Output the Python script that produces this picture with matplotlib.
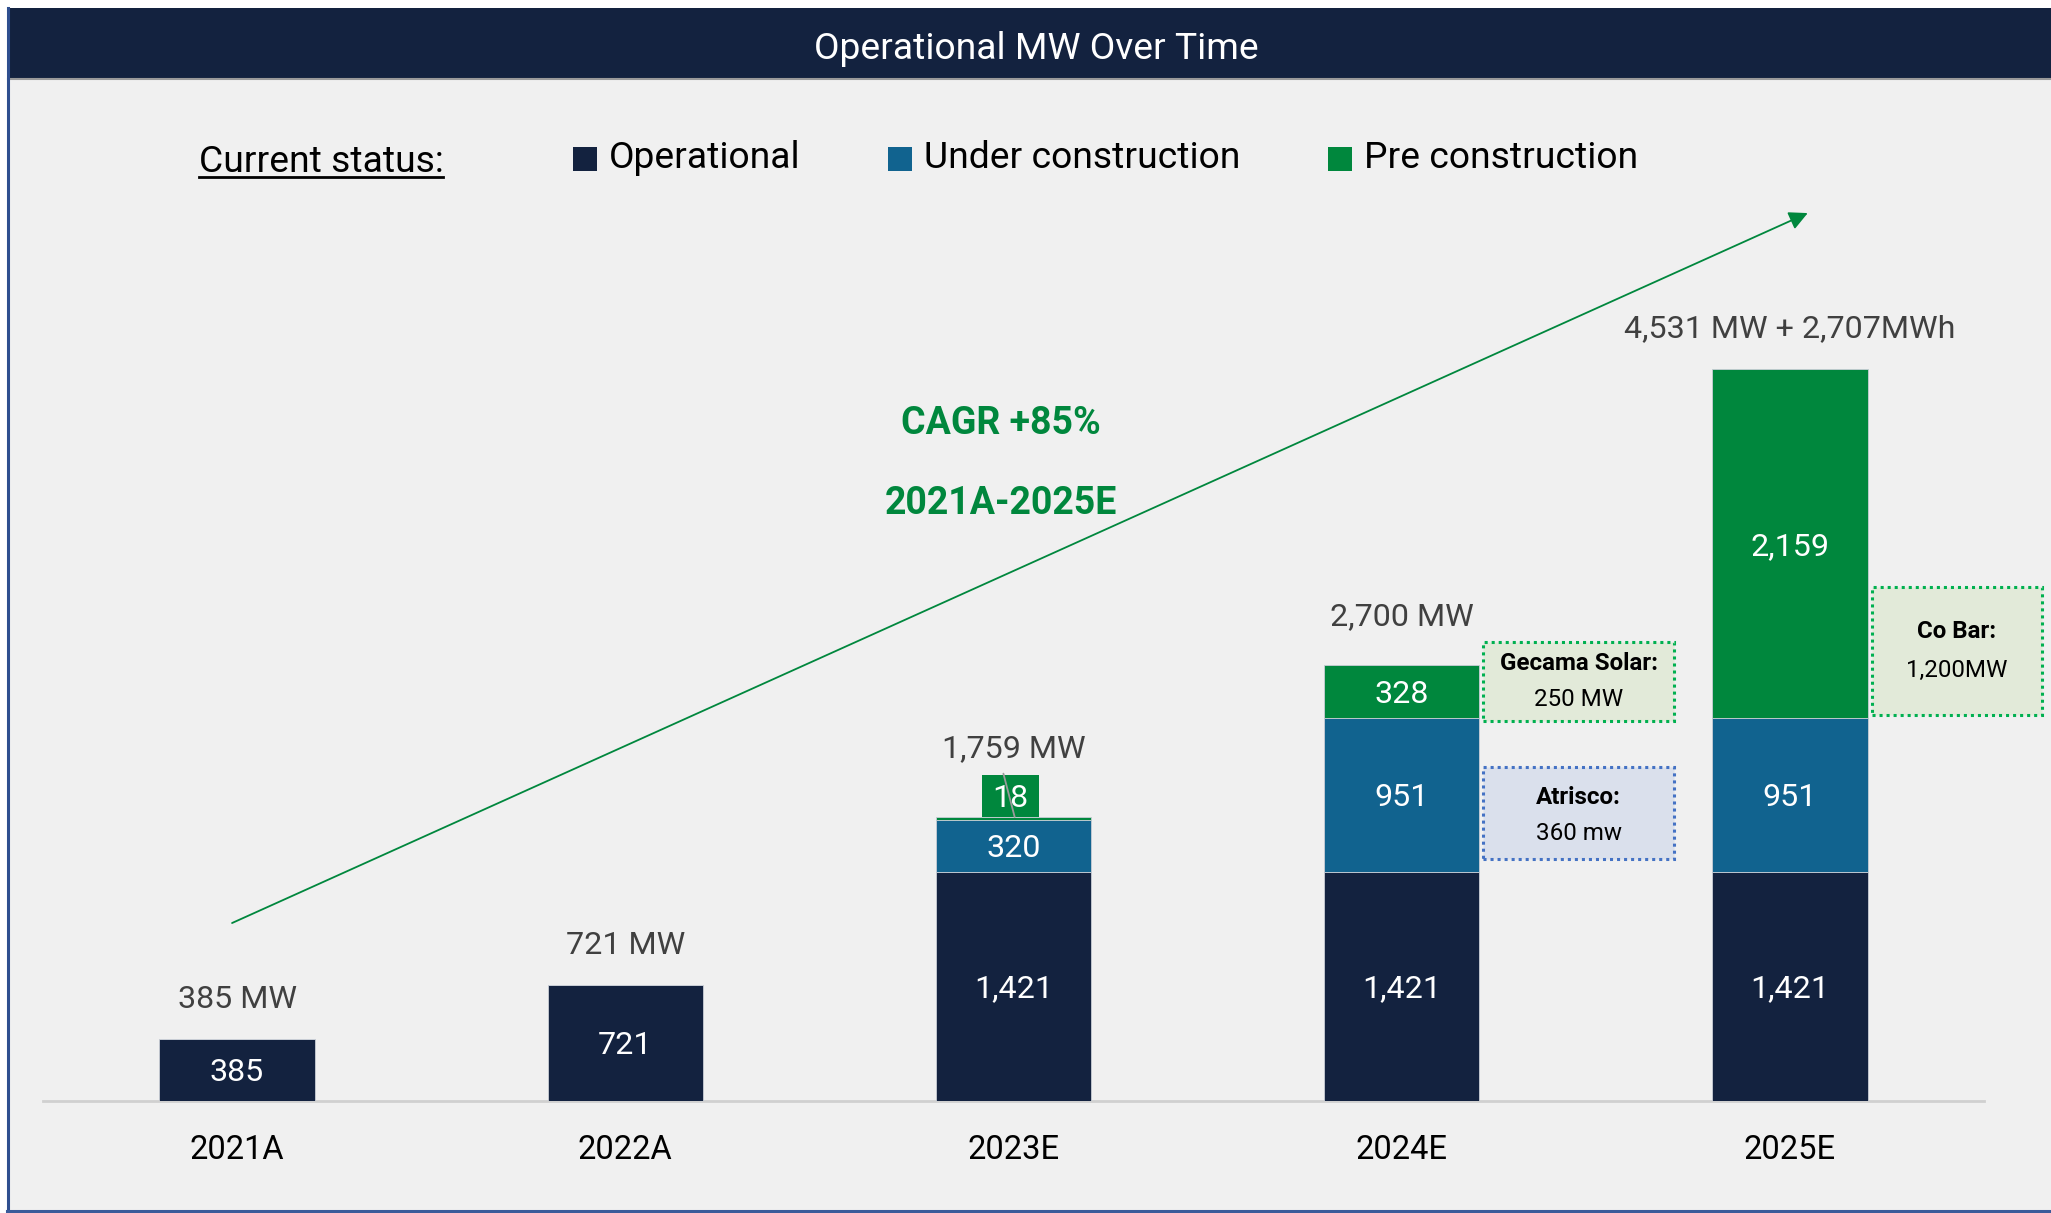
import matplotlib
matplotlib.use("Agg")
import matplotlib.pyplot as plt
from matplotlib.patches import Rectangle
from matplotlib.lines import Line2D
import numpy as np

plt.rcParams['font.family'] = ['Roboto', 'DejaVu Sans']

# ---------------- data ----------------
years = ["2021A", "2022A", "2023E", "2024E", "2025E"]
operational = [385, 721, 1421, 1421, 1421]
under_construction = [0, 0, 320, 951, 951]
pre_construction = [0, 0, 18, 328, 2159]
total_labels = ["385 MW", "721 MW", "1,759 MW", "2,700 MW", "4,531 MW + 2,707MWh"]
status_names = ["Operational", "Under construction", "Pre construction"]
title = "Operational MW Over Time"
cagr_lines = ["CAGR +85%", "2021A-2025E"]

NAVY = "#13223F"
BLUE = "#11638F"
GREEN = "#00873D"
colors = [NAVY, BLUE, GREEN]

W, H = 2051, 1213
fig = plt.figure(figsize=(W / 100, H / 100), dpi=100, facecolor="white")


def fx(x):
    return x / W


def fy(y):
    return 1 - y / H


def frect(x0, y0, x1, y1, **kw):
    r = Rectangle((fx(x0), fy(y1)), fx(x1) - fx(x0), fy(y0) - fy(y1),
                  transform=fig.transFigure, **kw)
    fig.add_artist(r)
    return r


# panel background and borders
frect(8, 8, W, 1211, facecolor="#F0F0F0", edgecolor="none", zorder=0)
frect(8, 8, W, 79, facecolor=NAVY, edgecolor="none", zorder=1)
fig.add_artist(Line2D([fx(8), fx(W)], [fy(79), fy(79)], color="#9A9A9A", lw=1.5,
                      transform=fig.transFigure, zorder=2))
fig.add_artist(Line2D([fx(7.5), fx(7.5)], [fy(8), fy(1211)], color="#2F4F8F", lw=2.2,
                      transform=fig.transFigure, zorder=2))
fig.add_artist(Line2D([fx(7), fx(W)], [fy(1211), fy(1211)], color="#3B5B9A", lw=2.2,
                      transform=fig.transFigure, zorder=2))

fig.text(fx(1036), fy(49), title, color="white", fontsize=26.8, ha="center", va="center")

# legend
fig.text(fx(199), fy(162), "Current status:", fontsize=26.8, color="black",
         ha="left", va="center")
fig.add_artist(Line2D([fx(199), fx(443)], [fy(177), fy(177)], color="black", lw=2,
                      transform=fig.transFigure))
leg_sq_x = [573, 888, 1328]
for sx, name, c in zip(leg_sq_x, status_names, colors):
    frect(sx, 147, sx + 24, 171, facecolor=c, edgecolor="none", zorder=3)
    fig.text(fx(sx + 36), fy(158), name, fontsize=26.8, color="black", ha="left", va="center")

# ---------------- axes ----------------
ax = fig.add_axes([fx(43), fy(1101), fx(1984) - fx(43), fy(79) - fy(1101)])
ax.patch.set_alpha(0)
x = np.arange(len(years))
bw = 0.4
op = np.array(operational)
uc = np.array(under_construction)
pc = np.array(pre_construction)
edge = dict(edgecolor="#C9CED6", linewidth=0.6)
ax.bar(x, op, bw, color=NAVY, zorder=3, **edge)
ax.bar(x, uc, bw, bottom=op, color=BLUE, zorder=3, **edge)
ax.bar(x, pc, bw, bottom=op + uc, color=GREEN, zorder=3, **edge)

ax.set_xlim(-0.5, 4.5)
ax.set_ylim(0, 1022 / 0.1615)
ax.set_xticks(x)
ax.set_xticklabels(years, fontsize=23.5, color="black")
ax.tick_params(axis="x", length=0, pad=24)
ax.set_yticks([])
for s in ["top", "left", "right"]:
    ax.spines[s].set_visible(False)
ax.spines["bottom"].set_color("#D0D0D0")
ax.spines["bottom"].set_linewidth(2)

# inner labels
lab_kw = dict(ha="center", va="center", color="white", fontsize=23.2, zorder=5,
              textcoords="offset points", xytext=(0, -2))
for i in range(len(years)):
    ax.annotate(f"{op[i]:,}", xy=(x[i], op[i] / 2), **lab_kw)
    if uc[i] > 0:
        ax.annotate(f"{uc[i]:,}", xy=(x[i], op[i] + uc[i] / 2), **lab_kw)
    if pc[i] > 50:
        ax.annotate(f"{pc[i]:,}", xy=(x[i], op[i] + uc[i] + pc[i] / 2), **lab_kw)

# small "18" callout for 2023E
tot = op + uc + pc
small = 2
ax.add_patch(Rectangle((x[small] - 0.081, tot[small]), 0.147, 258, facecolor=GREEN,
                       edgecolor="none", zorder=6))
ax.text(x[small] - 0.008, tot[small] + 112, f"{pc[small]:,}", ha="center", va="center",
        color="white", fontsize=23.2, zorder=7)
ax.annotate("", xy=(x[small] + 0.003, tot[small]), xytext=(x[small] - 0.026, tot[small] + 268),
            arrowprops=dict(arrowstyle="-", color="#9A9A9A", lw=1.3,
                            shrinkA=0, shrinkB=0), zorder=8)

# totals
offsets_pt = [28, 28, 49, 35, 29]
for i in range(len(years)):
    ax.annotate(total_labels[i], xy=(x[i], tot[i]), xytext=(0, offsets_pt[i]),
                textcoords="offset points", ha="center", va="center",
                color="#404040", fontsize=23.2)

# CAGR arrow
ax.annotate("", xy=(4.046, 5498), xytext=(-0.013, 1102),
            arrowprops=dict(arrowstyle="-|>", color=GREEN, lw=1.3, mutation_scale=28,
                            shrinkA=0, shrinkB=0), zorder=2)
fig.text(fx(1001), fy(424), cagr_lines[0], color=GREEN, fontsize=27, fontweight="bold",
         ha="center", va="center")
fig.text(fx(1001), fy(504), cagr_lines[1], color=GREEN, fontsize=27, fontweight="bold",
         ha="center", va="center")

# callout boxes
boxes = [
    ((1483, 642, 1674, 721), "#E2EAD9", "#00B050", "Gecama Solar:", "250 MW", 664, 700),
    ((1483, 767, 1674, 859), "#DAE0EC", "#4472C4", "Atrisco:", "360 mw", 797, 833),
    ((1872, 587, 2042, 715), "#E2EAD9", "#00B050", "Co Bar:", "1,200MW", 632, 670),
]
for (x0, y0, x1, y1), fc, ec, t1, t2, ty1, ty2 in boxes:
    frect(x0, y0, x1, y1, facecolor=fc, edgecolor=ec, lw=2.2,
          linestyle=(0, (1, 1.3)), zorder=4)
    cx = (x0 + x1) / 2
    fig.text(fx(cx), fy(ty1), t1, fontsize=17.4, fontweight="bold", color="black",
             ha="center", va="center", zorder=5)
    fig.text(fx(cx), fy(ty2), t2, fontsize=17.4, color="black",
             ha="center", va="center", zorder=5)

fig.savefig("out.png", dpi=100, facecolor=fig.get_facecolor())
